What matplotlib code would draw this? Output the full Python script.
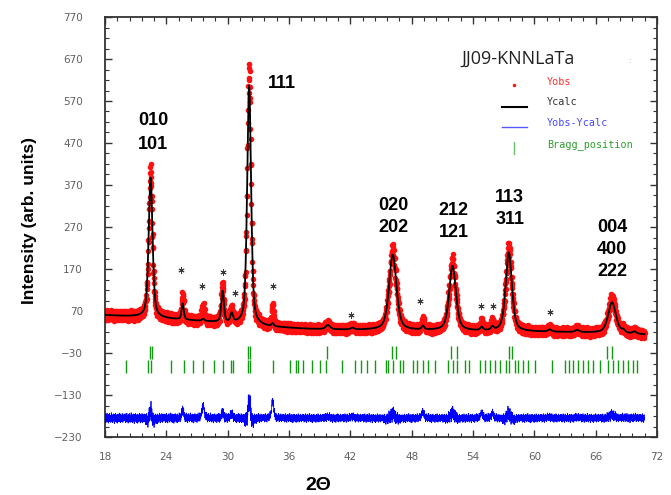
import numpy as np
import matplotlib
matplotlib.use("Agg")
import matplotlib.pyplot as plt
from matplotlib.ticker import FixedLocator, MultipleLocator

# ---------------- data ----------------
scan_start, scan_stop, scan_step = 18.0, 70.8, 0.02

bg_two_theta = [18, 22, 26, 30, 34, 38, 42, 46, 50, 54, 58, 62, 66, 70.8]
bg_counts    = [60, 55, 48, 41, 32, 27, 25, 24, 23, 22, 21, 20, 18, 14]

peak_pos    = [22.46, 25.60, 27.60, 29.50, 30.40, 32.10, 34.40, 39.80, 42.20,
               46.15, 49.10, 52.00, 54.85, 55.90, 57.50, 61.50, 64.20, 67.60,
               68.70, 69.80]
peak_calc_h = [333, 38, 5, 74, 21, 570, 7, 10, 4,
               180, 9, 154, 8, 8, 188, 5, 5, 74,
               6, 5]
peak_obs_h  = [350, 58, 35, 88, 32, 610, 50, 13, 8,
               190, 24, 166, 20, 20, 198, 8, 7, 82,
               8, 7]
peak_fwhm   = [0.45, 0.25, 0.30, 0.30, 0.30, 0.45, 0.25, 0.50, 0.40,
               0.85, 0.30, 0.78, 0.30, 0.30, 0.72, 0.40, 0.50, 0.90,
               0.40, 0.40]

# counting-noise residuals read as a repeating jitter of the obs points
noise = [3, -7, 11, -2, -12, 6, 1, 9, -5, -10, 13, -3, 4, -8, 0, 7, -13, 5, 10, -6,
         2, -1, 12, -9, -4, 8, -11, 3, 6, -2, -7, 14, -5, 1, -10, 9, 4, -3, -12, 7,
         0, 11, -6, -8, 5, 2, -14, 10, -1, 6, -9, 3, 12, -4, -7, 8, -2, -11, 4, 9,
         -5, 1, -13, 6, 11, -3, -8, 2, 7, -10, 5, -1, 13, -6, -4, 10, -12, 3, 8, -2,
         -9, 6, 1, -7, 12, -5, 4, -11, 9, -3, 0, 7, -8, 2, 11, -6, -1]

diff_offset = -185

bragg_row1 = [22.45, 22.60, 32.00, 32.15, 39.71, 46.04, 46.50, 51.88, 52.43,
              57.52, 57.85, 67.11, 67.64]
bragg_row2 = [20.02, 22.17, 22.46, 24.42, 25.69, 26.57, 27.55, 28.63, 29.50, 30.29,
              30.49, 31.95, 32.15, 34.40, 36.07, 36.65, 36.85, 37.34, 38.22, 39.00,
              39.59, 41.15, 42.43, 43.01, 43.60, 44.38, 45.46, 45.65, 46.14, 46.83,
              47.12, 48.10, 48.49, 49.08, 49.57, 50.25, 51.53, 52.01, 52.40, 53.19,
              53.58, 54.65, 55.14, 55.63, 56.12, 56.61, 57.20, 57.49, 58.08, 58.37,
              58.86, 59.35, 60.03, 61.70, 62.97, 63.36, 63.75, 64.24, 64.73, 65.22,
              65.71, 66.39, 67.18, 67.67, 68.16, 68.65, 69.14, 69.63, 70.02]

hkl_labels = [("010", 22.7, 524), ("101", 22.7, 466), ("111", 35.3, 612),
              ("020", 46.2, 322), ("202", 46.2, 268), ("212", 52.1, 310),
              ("121", 52.1, 256), ("113", 57.6, 340), ("311", 57.6, 287),
              ("004", 67.6, 270), ("400", 67.6, 217), ("222", 67.6, 164)]

star_x = [25.47, 27.52, 29.54, 30.68, 34.43, 42.03, 48.85, 54.82, 55.95, 61.50]
star_y = [167, 129, 163, 114, 129, 60, 95, 83, 81, 67]

# ---------------- build the profiles ----------------
tt = np.arange(scan_start, scan_stop, scan_step)
bg = np.interp(tt, bg_two_theta, bg_counts)


def pv(x, x0, h, w, eta=0.5):
    g = np.exp(-4 * np.log(2) * ((x - x0) / w) ** 2)
    l = 1.0 / (1 + 4 * ((x - x0) / w) ** 2)
    return h * (eta * l + (1 - eta) * g)


ycalc = bg.copy()
yobs_smooth = bg.copy()
for p, hc, ho, w in zip(peak_pos, peak_calc_h, peak_obs_h, peak_fwhm):
    ycalc += pv(tt, p, hc, w)
    yobs_smooth += pv(tt, p, ho, w * 0.95)

nz = np.resize(np.array(noise, float), tt.size) * 0.8
scale = (np.maximum(ycalc, 40) / 40) ** 0.35
yobs = yobs_smooth + nz * scale
ydiff = yobs - ycalc + diff_offset

# ---------------- figure ----------------
fig = plt.figure(figsize=(6.71, 4.95), dpi=100)
ax = fig.add_axes([105 / 671, 58 / 495, 552 / 671, 420 / 495])

ax.plot(tt, yobs, linestyle="none", marker="o", ms=4.0, mec="none",
        color="#ff1010", zorder=2)
ax.plot(tt, ycalc, color="black", lw=1.3, zorder=3)
ax.plot(tt, ydiff, color="#0000ff", lw=0.55, zorder=3)
ax.vlines(bragg_row1, -44, -13, color="#119a11", lw=1.0, zorder=3)
ax.vlines(bragg_row2, -77, -46, color="#119a11", lw=1.0, zorder=3)

ax.scatter(star_x, star_y, marker=(6, 2, 0), s=15, color="#3a3a3a",
           linewidths=0.7, zorder=4)

for txt, x, y in hkl_labels:
    ax.text(x, y, txt, ha="center", va="center", fontsize=13,
            fontweight="bold", family="Liberation Sans", color="black")

ax.set_xlim(18, 72)
ax.set_ylim(-230, 770)
ax.xaxis.set_major_locator(FixedLocator(np.arange(18, 73, 6)))
ax.xaxis.set_minor_locator(MultipleLocator(1.2))
ax.yaxis.set_major_locator(FixedLocator(np.arange(-230, 771, 100)))
ax.yaxis.set_minor_locator(FixedLocator(np.arange(-230, 771, 25)))
ax.tick_params(which="both", direction="in", top=True, right=True,
               color="#333333", labelcolor="#606060", labelsize=7.5)
ax.tick_params(which="major", length=5, width=1.0)
ax.tick_params(which="minor", length=3, width=0.8)
ax.tick_params(axis="y", pad=16)
ax.tick_params(axis="x", pad=11)
for sp in ax.spines.values():
    sp.set_color("#333333")
    sp.set_linewidth(1.3)

fig.text(30 / 671, 1 - 221 / 495, "Intensity (arb. units)", rotation=90,
         ha="center", va="center", fontsize=12.5, fontweight="bold",
         family="Liberation Sans")
fig.text(318 / 671, 1 - 486 / 495, "2Θ", ha="center", va="center",
         fontsize=14, fontweight="bold", family="Liberation Sans")

# ---------------- legend (drawn in figure pixels) ----------------
def fx(px):
    return px / 671


def fy(py):
    return 1 - py / 495


fig.text(fx(518), fy(59), "JJ09-KNNLaTa", ha="center", va="center",
         fontsize=13, family="Open Sans", color="#222222")
fig.text(fx(629), fy(61), ":", ha="center", va="center", fontsize=5,
         color="#aaaaaa")
leg = [("Yobs", "#ff3030", 82), ("Ycalc", "#333333", 102),
       ("Yobs-Ycalc", "#4848ff", 123), ("Bragg_position", "#2f9f2f", 145)]
for t, c, py in leg:
    fig.text(fx(547), fy(py), t, ha="left", va="center", fontsize=7.3,
             family="DejaVu Sans Mono", color=c)
fig.add_artist(plt.Line2D([fx(514)], [fy(85)], marker="o", ms=2.5,
                          color="#ff1010", mec="none", linestyle="none"))
fig.add_artist(plt.Line2D([fx(502), fx(527)], [fy(107), fy(107)],
                          color="black", lw=1.5))
fig.add_artist(plt.Line2D([fx(502), fx(527)], [fy(127), fy(127)],
                          color="#5858ff", lw=1.0))
fig.add_artist(plt.Line2D([fx(514), fx(514)], [fy(142), fy(154)],
                          color="#6cbf6c", lw=1.0))

fig.savefig("out.png", dpi=100)
